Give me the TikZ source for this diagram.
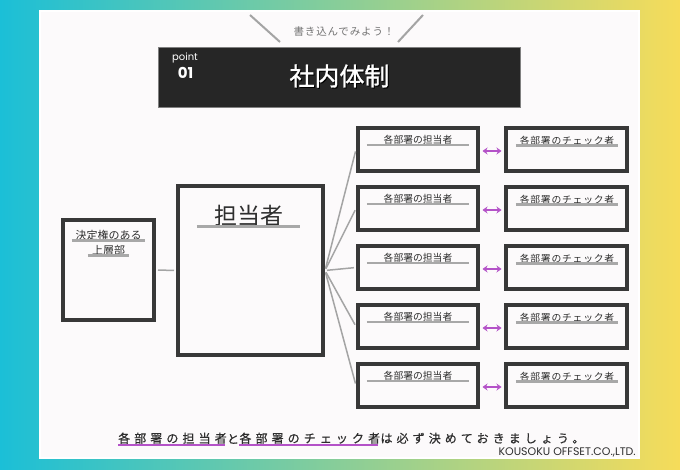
\documentclass[tikz,border=0pt]{standalone}
\usepackage{fontspec}
\newfontfamily\jp{Noto Sans CJK JP}
\newfontfamily\jpmed[FakeBold=1.2]{Noto Sans CJK JP}
\newfontfamily\jpsp[LetterSpace=34,FakeBold=0.5]{Noto Sans CJK JP}
\newfontfamily\jpsm[LetterSpace=8]{Noto Sans CJK JP}
\newfontfamily\lat{Poppins}
\usetikzlibrary{arrows.meta,calc}
\definecolor{cyanbg}{HTML}{1BBFD7}
\definecolor{midbg}{HTML}{8CCF94}
\definecolor{yelbg}{HTML}{F6DC5A}
\definecolor{panel}{HTML}{FCFAFB}
\definecolor{boxline}{HTML}{383838}
\definecolor{ulgrey}{HTML}{A8A8A8}
\definecolor{fangrey}{HTML}{A4A4A4}
\definecolor{purp}{HTML}{B452C8}
\definecolor{darkbox}{HTML}{262626}
\definecolor{txt}{HTML}{2E2E2E}
\begin{document}
\begin{tikzpicture}[x=1pt,y=-1pt,
  box/.style={draw=boxline, line width=4pt, fill=panel, inner sep=0pt},
  uline/.style={draw=ulgrey, line width=2.5pt},
  pline/.style={draw=purp, line width=2pt},
  fan/.style={draw=fangrey, line width=1.5pt},
  biarrow/.style={purp, line width=1.8pt, {Stealth[length=5pt,width=7pt]}-{Stealth[length=5pt,width=7pt]}},
  lbl/.style={inner sep=0pt, text=txt}]
\useasboundingbox (0,0) rectangle (680,470);
% background
\shade[left color=cyanbg, middle color=midbg, right color=yelbg] (0,0) rectangle (680,470);
\fill[panel] (40,11) rectangle (639,458);
\draw[white, line width=1.2pt] (40,11) rectangle (639,458);
% speech marks
\coordinate (s1a) at (250,15); \coordinate (s1b) at (280,42);
\coordinate (s2a) at (423,15); \coordinate (s2b) at (398,42);
\draw[fangrey, line width=2pt] (s1a) -- (s1b);
\draw[fangrey, line width=2pt] (s2a) -- (s2b);
\node[lbl, text=gray!90!black, font=\jpsm\fontsize{10.5}{12}\selectfont] (say) at (344,32) {書き込んでみよう！};
% title
\node[fill=darkbox, draw=gray, line width=0.8pt, minimum width=362, minimum height=60, inner sep=0pt] (title) at (339.5,77.5) {};
\node[lbl, text=black, font=\jpmed\fontsize{25}{28}\selectfont] (titles) at (340.5,77) {社内体制};
\node[lbl, text=white, font=\jpmed\fontsize{25}{28}\selectfont] (titlet) at (339.5,76) {社内体制};
\node[lbl, text=white, font=\lat\fontsize{10}{11}\selectfont] (pt) at (185,57.5) {point};
\node[lbl, text=white, font=\lat\bfseries\fontsize{15}{16}\selectfont] (num) at (185.5,73) {01};
% left box
\node[box, minimum width=91, minimum height=100] (top) at (108.5,270) {};
\node[lbl, font=\jp\fontsize{11}{12}\selectfont, minimum width=73, anchor=south] (topt1) at (108.5,240.5) {決定権のある};
\draw[uline] (topt1.south west) -- (topt1.south east);
\node[lbl, font=\jp\fontsize{11}{12}\selectfont, minimum width=41, anchor=south] (topt2) at (108.5,255.5) {上層部};
\draw[uline] (topt2.south west) -- (topt2.south east);
% centre box
\node[box, minimum width=145, minimum height=169] (ctr) at (250.5,270.5) {};
\node[lbl, font=\jp\fontsize{23}{25}\selectfont, minimum width=103, anchor=south] (ctrt) at (248.5,226.5) {担当者};
\draw[uline, line width=3pt] (ctrt.south west) -- (ctrt.south east);
\draw[fan, shorten <=2pt, shorten >=2pt] (top.east) -- (ctr.west);
% rows
\foreach \i in {1,...,5}{
  \pgfmathsetmacro\yt{126+59*(\i-1)}
  \node[box, minimum width=120, minimum height=43] (m\i) at (418,\yt+23.5) {};
  \node[box, minimum width=121, minimum height=43] (c\i) at (566.5,\yt+23.5) {};
  \node[lbl, font=\jp\fontsize{9.8}{10}\selectfont, minimum width=102, anchor=south] (mt\i) at (418,\yt+19) {各部署の担当者};
  \draw[uline] (mt\i.south west) -- (mt\i.south east);
  \node[lbl, font=\jpsm\fontsize{9.8}{10}\selectfont, minimum width=102, anchor=south] (ct\i) at (567,\yt+19.5) {各部署のチェック者};
  \draw[uline] (ct\i.south west) -- (ct\i.south east);
  \draw[fan, shorten <=2pt, shorten >=2pt] (ctr.east) -- (m\i.west);
  \draw[biarrow, shorten <=2.5pt, shorten >=2.5pt] ([yshift=-1.5pt]m\i.east) -- ([yshift=-1.5pt]c\i.west);
}
% bottom sentence
\node[lbl, font=\jpsp\fontsize{12}{13}\selectfont, anchor=south west] (b1) at (118,444) {各部署の担当者};
\node[lbl, font=\jpsp\fontsize{12}{13}\selectfont, anchor=south west] (b2) at (b1.south east) {と};
\node[lbl, font=\jpsp\fontsize{12}{13}\selectfont, anchor=south west] (b3) at (b2.south east) {各部署のチェック者};
\node[lbl, font=\jpsp\fontsize{12}{13}\selectfont, anchor=south west] (b4) at (b3.south east) {は必ず決めておきましょう。};
\draw[pline] ([yshift=-1pt]b1.south west) -- ([xshift=-2pt,yshift=-1pt]b1.south east);
\draw[pline] ([yshift=-1pt]b3.south west) -- ([xshift=-2pt,yshift=-1pt]b3.south east);
\node[lbl, font=\lat\fontsize{11}{12}\selectfont, anchor=east] (co) at (636,452) {KOUSOKU OFFSET.CO.,LTD.};
\end{tikzpicture}
\end{document}
